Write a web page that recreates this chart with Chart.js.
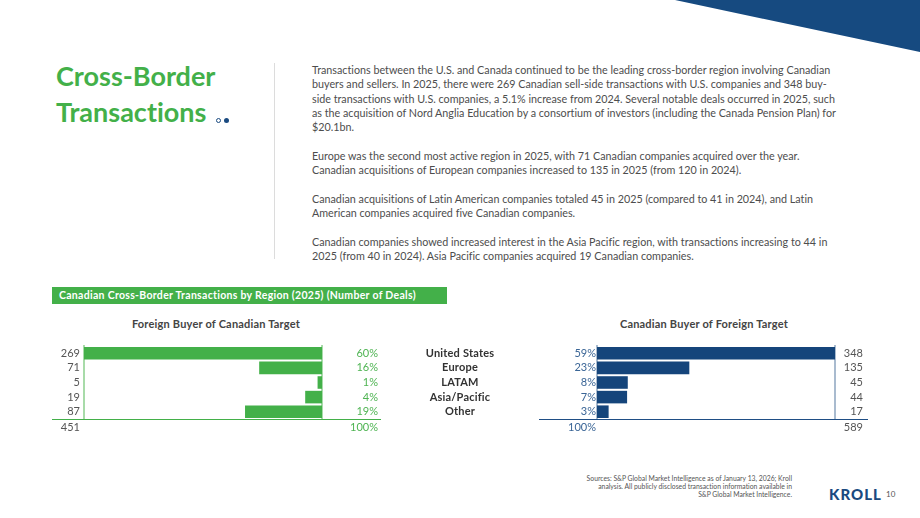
<!DOCTYPE html>
<html>
<head>
<meta charset="utf-8">
<script src="https://cdn.jsdelivr.net/npm/chart.js"></script>
<style>
  body { margin: 0; width: 920px; height: 518px; position: relative; overflow: hidden; background: #fff;
         font-family: Lato, "Open Sans", sans-serif; color: #4a4a4a; font-variant-ligatures: none; }
  .abs { position: absolute; white-space: nowrap; }
  #corner { left: 0; top: 0; width: 920px; height: 60px; background: #164a80;
            clip-path: polygon(675px 0, 920px 0, 920px 52px); }
  #title { left: 56px; top: 58px; font-size: 27px; font-weight: 700; line-height: 35.7px; color: #43b049; }
  .dot { width: 4px; height: 4px; border-radius: 50%; top: 118px; }
  #divider { left: 274px; top: 63px; width: 1px; height: 196px; background: #dcdcdc; }
  #body { left: 312px; top: 63px; font-size: 10.75px; line-height: 14.3px; color: #4d4d4d; }
  #banner { left: 52px; top: 287px; width: 395px; height: 17px; background: #43b049; color: #fff;
            font-size: 10.5px; font-weight: 700; line-height: 17px; padding-left: 7px; box-sizing: border-box;
            letter-spacing: 0.3px; }
  .ctitle { top: 317px; font-size: 11px; font-weight: 700; color: #444; transform: translateX(-50%); letter-spacing: 0.2px; }
  .rule { height: 0; }
  .tot { top: 420px; font-size: 11px; line-height: 13px; text-align: right; }
  #src { right: 128px; top: 475px; font-size: 6.8px; line-height: 7.9px; text-align: right; color: #555; }
  #logo { left: 829px; top: 485px; font-size: 15px; font-weight: 900; letter-spacing: 1px; color: #1a4a80; }
  #page { left: 886px; top: 489px; font-size: 8px; color: #555; }
</style>
</head>
<body>
<div id="corner" class="abs"></div>

<div id="title" class="abs">Cross-Border<br>Transactions</div>
<div class="abs dot" style="left:216px; border:1px solid #1a4a80; width:3px; height:3px;"></div>
<div class="abs dot" style="left:223.5px; background:#1a4a80; width:5px; height:5px;"></div>
<div id="divider" class="abs"></div>

<div id="body" class="abs">Transactions between the U.S. and Canada continued to be the leading cross-border region involving Canadian<br>buyers and sellers. In 2025, there were 269 Canadian sell-side transactions with U.S. companies and 348 buy-<br>side transactions with U.S. companies, a 5.1% increase from 2024. Several notable deals occurred in 2025, such<br>as the acquisition of Nord Anglia Education by a consortium of investors (including the Canada Pension Plan) for<br>$20.1bn.<br><br>Europe was the second most active region in 2025, with 71 Canadian companies acquired over the year.<br>Canadian acquisitions of European companies increased to 135 in 2025 (from 120 in 2024).<br><br>Canadian acquisitions of Latin American companies totaled 45 in 2025 (compared to 41 in 2024), and Latin<br>American companies acquired five Canadian companies.<br><br>Canadian companies showed increased interest in the Asia Pacific region, with transactions increasing to 44 in<br>2025 (from 40 in 2024). Asia Pacific companies acquired 19 Canadian companies.</div>

<div id="banner" class="abs">Canadian Cross-Border Transactions by Region (2025) (Number of Deals)</div>

<div class="abs ctitle" style="left:216px;">Foreign Buyer of Canadian Target</div>
<div class="abs ctitle" style="left:704px;">Canadian Buyer of Foreign Target</div>

<canvas id="foreignChart" class="abs" width="338" height="97" style="left:40px; top:334px;"></canvas>
<canvas id="canadianChart" class="abs" width="443" height="97" style="left:420px; top:334px;"></canvas>

<div class="abs rule" style="left:52px; top:418.5px; width:329px; border-top:1.5px solid #43b049;"></div>
<div class="abs rule" style="left:539px; top:418.5px; width:329px; border-top:1.5px solid #1f4e85;"></div>

<div id="totForeign" class="abs tot" style="right:840px; color:#555;"></div>
<div id="totForeignPct" class="abs tot" style="right:542px; color:#4fb453;"></div>
<div id="totCanadianPct" class="abs tot" style="right:324px; color:#3a6596;"></div>
<div id="totCanadian" class="abs tot" style="right:57px; color:#555;"></div>

<div id="src" class="abs">Sources: S&amp;P Global Market Intelligence as of January 13, 2026; Kroll<br>analysis. All publicly disclosed transaction information available in<br>S&amp;P Global Market Intelligence.</div>
<div id="logo" class="abs">KROLL</div>
<div id="page" class="abs">10</div>

<script>
var regions = ["United States", "Europe", "LATAM", "Asia/Pacific", "Other"];
// foreign buyer of Canadian target (sell-side)
var foreignDeals = [269, 71, 5, 19, 87];
var foreignPct = ["60%", "16%", "1%", "4%", "19%"];
// Canadian buyer of foreign target (buy-side)
var canadianDeals = [348, 135, 45, 44, 17];
var canadianPct = ["59%", "23%", "8%", "7%", "3%"];
var totalPct = "100%";

var GREEN = "#43b049";
var GREEN_LINE = "#a8dba9";
var BLUE = "#15457b";
var BLUE_LINE = "#a9bbcf";
var tickFont = { family: "Lato", size: 11, lineHeight: 1.2 };

function sum(arr) { return arr.reduce(function(a, b) { return a + b; }, 0); }

document.getElementById("totForeign").textContent = sum(foreignDeals);
document.getElementById("totForeignPct").textContent = totalPct;
document.getElementById("totCanadianPct").textContent = totalPct;
document.getElementById("totCanadian").textContent = sum(canadianDeals);

function sideAxis(position, width, labels, color, borderColor, pad) {
	return {
		type: 'category',
		axis: 'y',
		position: position,
		offset: true,
		grid: { display: false, drawTicks: false },
		border: { display: true, color: borderColor, width: 2 },
		ticks: {
			autoSkip: false,
			padding: pad,
			crossAlign: position === 'right' ? 'far' : 'near',
			color: color,
			font: tickFont,
			callback: function(v, i) { return labels[i]; }
		},
		afterFit: function(s) { s.width = width; }
	};
}

/////foreign buyer chart (bars grow to the left)
var foreignChart = new Chart(document.getElementById("foreignChart"), {
	type: 'bar',
	data: {
		labels: regions,
		datasets: [{
			data: foreignDeals,
			backgroundColor: GREEN,
			barPercentage: 0.86,
			categoryPercentage: 1
		}]
	},
	options: {
		indexAxis: 'y',
		responsive: false,
		animation: false,
		layout: { padding: { top: 12, bottom: 12, left: 0, right: 0 } },
		plugins: { legend: { display: false }, tooltip: { enabled: false } },
		scales: {
			x: { display: false, reverse: true, min: 0, max: Math.max.apply(null, foreignDeals) },
			y: sideAxis('left', 44, foreignDeals, "#555", GREEN_LINE, 4),
			yPct: sideAxis('right', 56, foreignPct, "#4fb453", GREEN_LINE, 4)
		}
	}
});

/////region labels in the middle, placed on the canadian chart's rows
var regionLabels = {
	id: 'regionLabels',
	afterDraw: function(chart) {
		var ctx = chart.ctx;
		var y = chart.scales.y;
		ctx.save();
		ctx.font = "700 11px Lato";
		ctx.letterSpacing = "0.2px";
		ctx.fillStyle = "#333";
		ctx.textAlign = "center";
		ctx.textBaseline = "middle";
		regions.forEach(function(r, i) {
			ctx.fillText(r, 40, y.getPixelForValue(i));
		});
		ctx.restore();
	}
};

/////canadian buyer chart
var canadianChart = new Chart(document.getElementById("canadianChart"), {
	type: 'bar',
	data: {
		labels: regions,
		datasets: [{
			data: canadianDeals,
			backgroundColor: BLUE,
			barPercentage: 0.86,
			categoryPercentage: 1
		}]
	},
	options: {
		indexAxis: 'y',
		responsive: false,
		animation: false,
		layout: { padding: { top: 12, bottom: 12, left: 0, right: 0 } },
		plugins: { legend: { display: false }, tooltip: { enabled: false } },
		scales: {
			x: { display: false, min: 0, max: Math.max.apply(null, canadianDeals) },
			y: sideAxis('left', 177, canadianPct, "#3a6596", BLUE_LINE, 1),
			yCount: sideAxis('right', 28, canadianDeals, "#555", BLUE_LINE, 4)
		}
	},
	plugins: [regionLabels]
});
</script>
</body>
</html>
